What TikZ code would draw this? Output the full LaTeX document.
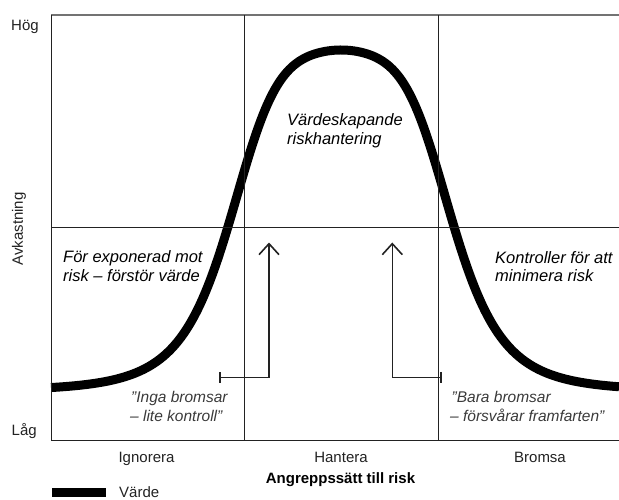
\documentclass[tikz,border=0pt]{standalone}
\usepackage{fontspec}
\setmainfont{Liberation Sans}
\usetikzlibrary{arrows.meta}
\definecolor{ink}{HTML}{222222}
\definecolor{quote}{HTML}{3A3A3A}
\tikzset{
  grid/.style={draw=ink, line width=1pt},
  topline/.style={draw=black!55, line width=1.2pt},
  value/.style={draw=black, line width=9pt},
  axislbl/.style={inner sep=0pt, text=ink, font=\fontsize{15}{18}\selectfont},
  axistitle/.style={inner sep=0pt, text=black, font=\fontsize{15}{18}\selectfont\bfseries},
  zonelbl/.style={inner sep=0pt, anchor=base west, text=black, font=\fontsize{16.5}{19}\selectfont\itshape},
  quotelbl/.style={inner sep=0pt, anchor=base west, text=quote, font=\fontsize{15.5}{18.5}\selectfont\itshape},
  pointer/.style={draw=ink, line width=1.6pt,
    {Bar[width=11pt,line width=2pt]}-{Straight Barb[length=11pt,width=20pt,line width=1.6pt]}}
}
\begin{document}
\begin{tikzpicture}[x=1pt,y=-1pt]
\useasboundingbox (0,0) rectangle (619,500);

% value curve
\draw[value] plot[domain=51:619, samples=280]
  (\x, {391-341/(1+pow((abs(\x-341)+0.01)/116.3,5)+((\x-341)/248)^2)});

% frame and grid
\coordinate (tl) at (51,15);
\coordinate (tr) at (619,15);
\coordinate (bl) at (51,440);
\coordinate (br) at (619,440);
\coordinate (v1t) at (244.5,15);
\coordinate (v1b) at (244.5,440);
\coordinate (v2t) at (438.5,15);
\coordinate (v2b) at (438.5,440);
\coordinate (hl) at (51,228);
\coordinate (hr) at (619,228);
\draw[topline] (tl) -- (tr);
\draw[grid] (tl) -- (bl) -- (br);
\draw[grid] (v1t) -- (v1b);
\draw[grid] (v2t) -- (v2b);
\draw[grid] (hl) -- (hr);

% pointers
\coordinate (pLs) at (218.5,377.3);
\coordinate (pLc) at (269,377.3);
\coordinate (pLe) at (269,242.5);
\coordinate (pRs) at (442.3,377.3);
\coordinate (pRc) at (392.3,377.3);
\coordinate (pRe) at (392.3,242.5);
\draw[pointer] (pLs) -- (pLc) -- (pLe);
\draw[pointer] (pRs) -- (pRc) -- (pRe);

% zone labels
\node[zonelbl] (z1a) at (63,262) {För exponerad mot};
\node[zonelbl] (z1b) at (63,281) {risk – förstör värde};
\node[zonelbl] (z2a) at (287,126) {Värdeskapande};
\node[zonelbl] (z2b) at (287,144.5) {riskhantering};
\node[zonelbl] (z3a) at (495,263) {Kontroller för att};
\node[zonelbl] (z3b) at (495,281.5) {minimera risk};

% quotes
\node[quotelbl] (q1a) at (131,402.7) {"Inga bromsar};
\node[quotelbl] (q1b) at (130,421) {– lite kontroll"};
\node[quotelbl] (q2a) at (451.5,402.7) {"Bara bromsar};
\node[quotelbl] (q2b) at (450,421) {– försvårar framfarten"};

% axes labels
\node[axislbl, anchor=base west] (hog) at (11,30.7) {Hög};
\node[axislbl, anchor=base west] (lag) at (11.5,435) {Låg};
\node[axislbl, anchor=base, rotate=90] (avk) at (23,229) {Avkastning};
\node[axislbl, anchor=base] (ign) at (146.5,462.7) {Ignorera};
\node[axislbl, anchor=base] (han) at (341,462.7) {Hantera};
\node[axislbl, anchor=base] (bro) at (540,462.7) {Bromsa};
\node[axistitle, anchor=base] (ang) at (340.5,483) {Angreppssätt till risk};

% legend
\node[fill=black, inner sep=0pt, minimum width=54pt, minimum height=8.5pt] (leg) at (79,492.5) {};
\node[axislbl, anchor=base west] (legt) at (119,497.5) {Värde};
\end{tikzpicture}
\end{document}
